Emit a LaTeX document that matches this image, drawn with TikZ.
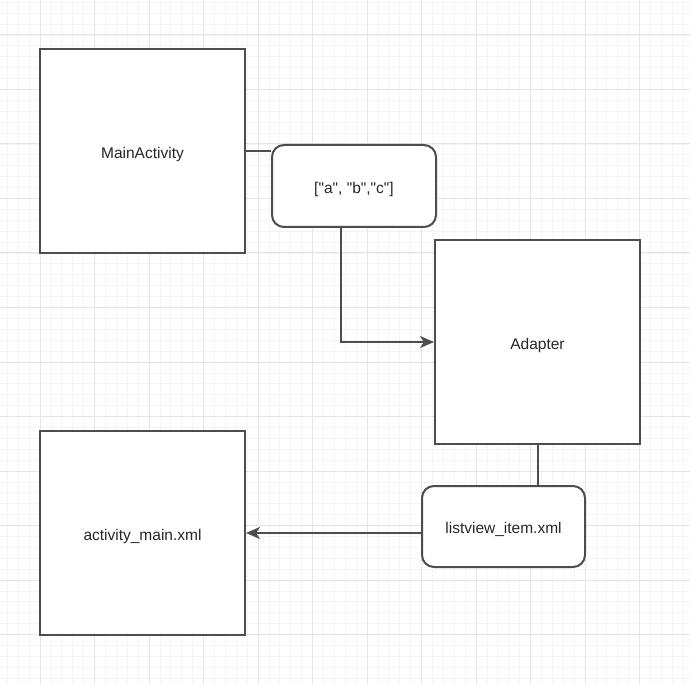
\documentclass[tikz,border=0pt]{standalone}
\usepackage{fontspec}
\setmainfont{Liberation Sans}[Ligatures=TeXOff]
\usetikzlibrary{arrows.meta}
\definecolor{edge}{HTML}{4D4D4D}
\definecolor{ink}{HTML}{262626}
\definecolor{gridminor}{HTML}{F4F4F4}
\definecolor{gridmajor}{HTML}{E5E5E5}
\begin{document}
\begin{tikzpicture}[x=1pt,y=-1pt,
  box/.style={draw=edge,line width=2pt,fill=white,text=ink,
    font=\fontsize{15.5}{18}\selectfont,inner sep=0pt,text height=14.4pt,text depth=0pt},
  square/.style={box,minimum width=205pt,minimum height=204pt},
  pill/.style={box,rounded corners=12pt,minimum width=163pt,minimum height=81pt},
  link/.style={draw=edge,line width=2pt},
  tip/.style={-{Stealth[length=14pt,width=12pt,inset=4pt]}}]
  \useasboundingbox (0,0) rectangle (690,684);
  \fill[white] (0,0) rectangle (690,684);
  % background grid: fine lines, with a stronger line every fifth
  \foreach \i in {-4,...,60} {
    \draw[gridminor,line width=0.8pt] ({40+\i*10.9},0) -- ({40+\i*10.9},684);
    \draw[gridminor,line width=0.8pt] (0,{35+\i*10.9}) -- (690,{35+\i*10.9});
  }
  \foreach \i in {-1,...,12} {
    \draw[gridmajor,line width=1pt] ({40+\i*54.5},0) -- ({40+\i*54.5},684);
    \draw[gridmajor,line width=1pt] (0,{35+\i*54.5}) -- (690,{35+\i*54.5});
  }
  % boxes
  \node[square] (main) at (142.5,151.5) {MainActivity};
  \node[pill,minimum width=164pt,minimum height=82pt] (arr) at (354,186) {["a", "b","c"]};
  \node[square] (adp) at (537.5,342) {Adapter};
  \node[pill] (lv) at (503.5,526.5) {listview\_item.xml};
  \node[square] (act) at (142.5,533) {activity\_main.xml};
  % connectors
  \draw[link] (main.east) -- (main.east -| arr.west);
  \draw[link,tip] ([xshift=-13pt]arr.south) |- (adp.west);
  \draw[link] (adp.south) -- (adp.south |- lv.north);
  \draw[link,tip] (act.east -| lv.west) -- (act.east);
\end{tikzpicture}
\end{document}
